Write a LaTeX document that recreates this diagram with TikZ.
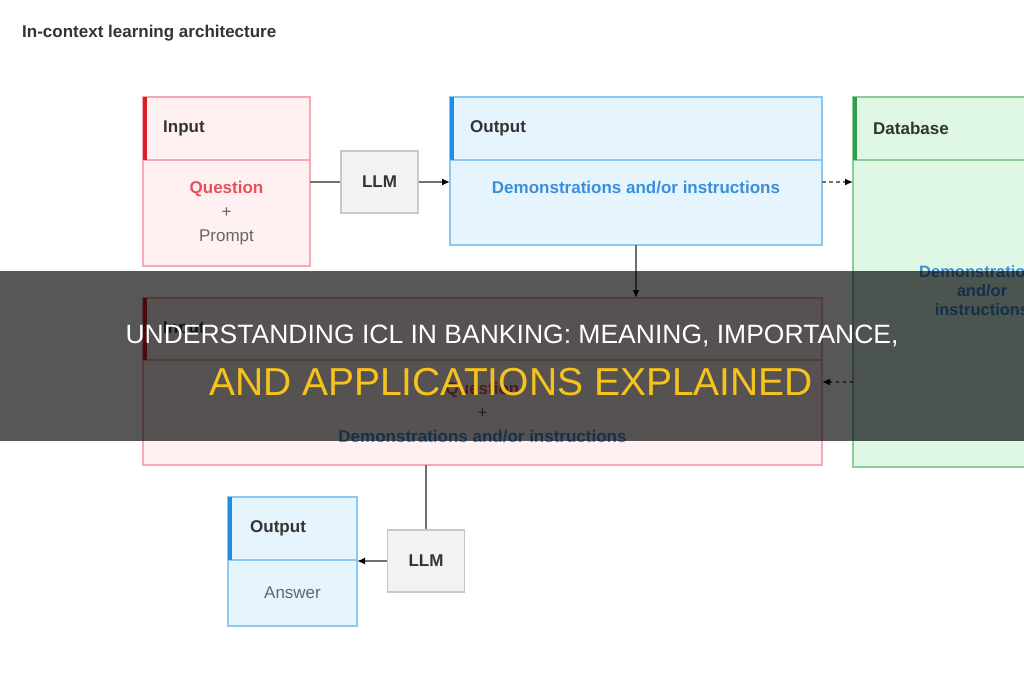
\documentclass[tikz,border=0pt]{standalone}
\usepackage{fontspec}
\setmainfont{Liberation Sans}
\usetikzlibrary{arrows.meta, positioning, calc}

\definecolor{inFill}{HTML}{FFF1F2}
\definecolor{inLine}{HTML}{F5AAB1}
\definecolor{inAcc}{HTML}{DA1E28}
\definecolor{outFill}{HTML}{E5F4FD}
\definecolor{outLine}{HTML}{8CC8F0}
\definecolor{outAcc}{HTML}{1D8DE8}
\definecolor{dbFill}{HTML}{DEF8E5}
\definecolor{dbLine}{HTML}{8DCB9C}
\definecolor{dbAcc}{HTML}{2E9E4F}
\definecolor{llmFill}{HTML}{F2F2F2}
\definecolor{llmLine}{HTML}{C8C8C8}
\definecolor{txtDark}{HTML}{333333}
\definecolor{txtGray}{HTML}{666666}
\definecolor{qRed}{HTML}{E8505B}
\definecolor{demoBlue}{HTML}{3B8FDA}
\definecolor{lineGray}{HTML}{707070}
\definecolor{bandYellow}{HTML}{F6C31E}

\begin{document}
\begin{tikzpicture}[
  x=1pt, y=-1pt,
  every node/.style={inner sep=0pt, font=\fontsize{17}{24}\selectfont, text=txtDark},
  card/.style={rectangle, draw=#1Line, fill=#1Fill, line width=1.5pt,
               outer sep=0pt, anchor=north west},
  llm/.style={rectangle, draw=llmLine, fill=llmFill, line width=1.5pt,
              minimum width=77pt, minimum height=62pt, font=\fontsize{17}{20}\selectfont\bfseries},
  htxt/.style={font=\fontsize{17}{20}\selectfont\bfseries},
  demo/.style={text=demoBlue, font=\fontsize{17}{20}\selectfont\bfseries},
  link/.style={line width=1.8pt, draw=lineGray},
  arr/.style={link, -{Latex[length=8pt, width=7pt, color=black]}},
  darr/.style={arr, dash pattern=on 3.5pt off 3.5pt},
]
\useasboundingbox (0,0) rectangle (1024,680);
\clip (0,0) rectangle (1024,680);

\node[htxt, anchor=west] (ttl) at (22,33) {In-context learning architecture};

% top row
\node[card=in, minimum width=167pt, minimum height=63pt] (inH) at (143,97) {};
\node[card=in, minimum width=167pt, minimum height=106pt, below=0pt of inH] (inB) {};
\node[card=out, minimum width=372pt, minimum height=63pt] (outH) at (450,97) {};
\node[card=out, minimum width=372pt, minimum height=85pt, below=0pt of outH] (outB) {};
\node[card=db, minimum width=258pt, minimum height=63pt] (dbH) at (853,97) {};
\node[card=db, minimum width=258pt, minimum height=307pt, below=0pt of dbH] (dbB) {};
\node[llm] (llm1) at (379.5,182) {LLM};

% second row
\node[card=in, minimum width=679pt, minimum height=62pt] (midH) at (143,298) {};
\node[card=in, minimum width=679pt, minimum height=105pt, below=0pt of midH] (midB) {};

% answer
\node[card=out, minimum width=129pt, minimum height=63pt] (ansH) at (228,497) {};
\node[card=out, minimum width=129pt, minimum height=66pt, below=0pt of ansH] (ansB) {};
\node[llm] (llm2) at (426,561) {LLM};

\foreach \h/\c in {inH/inAcc, outH/outAcc, dbH/dbAcc, midH/inAcc, ansH/outAcc}
  \fill[\c] (\h.north west) rectangle ([xshift=3.5pt]\h.south west);

% headers
\node[htxt, right=20pt of inH.west]  (inL)  {Input};
\node[htxt, right=20pt of outH.west] (outL) {Output};
\node[htxt, right=20pt of dbH.west]  (dbL)  {Database};
\node[htxt, right=20pt of midH.west] (midL) {Input};
\node[htxt, right=22pt of ansH.west] (ansL) {Output};

% contents
\node[align=center] (inT) at (inB.center)
  {{\bfseries\color{qRed}Question}\\{\color{txtGray}+}\\{\color{txtGray}Prompt}};
\node[demo] (outT) at (636,188) {Demonstrations and/or instructions};
\node[demo, align=center, font=\fontsize{16.5}{19}\selectfont\bfseries] (dbT) at (982,291)
  {Demonstrations\\and/or\\instructions};
\node[align=center] (midT) at (midB.center)
  {{\bfseries\color{qRed}Question}\\{\color{txtGray}+}\\{\bfseries\color{demoBlue}Demonstrations and/or instructions}};
\node[text=txtGray] (ansT) at (ansB.center) {Answer};

% connectors
\draw[link] (llm1.west -| inB.east) -- (llm1.west);
\draw[arr]  (llm1) -- (llm1 -| outB.west);
\draw[darr] (llm1 -| outB.east) -- (llm1 -| dbB.west);
\draw[arr]  (outB.south) -- (outB.south |- midH.north);
\coordinate (fb) at (0,382);
\draw[darr] (fb -| dbB.west) -- (fb -| midB.east);
\draw[link] (llm2.north |- midB.south) -- (llm2.north);
\draw[arr]  (llm2) -- (llm2 -| ansB.east);

% banner
\fill[black, opacity=0.66] (0,271) rectangle (1024,441);
\node[anchor=base, text=white, font=\fontsize{26.5}{30}\selectfont] (bandA) at (512,343)
  {UNDERSTANDING ICL IN BANKING: MEANING, IMPORTANCE,};
\node[anchor=base, text=bandYellow, font=\fontsize{39}{44}\selectfont] (bandB) at (511,395)
  {AND APPLICATIONS EXPLAINED};
\end{tikzpicture}
\end{document}
